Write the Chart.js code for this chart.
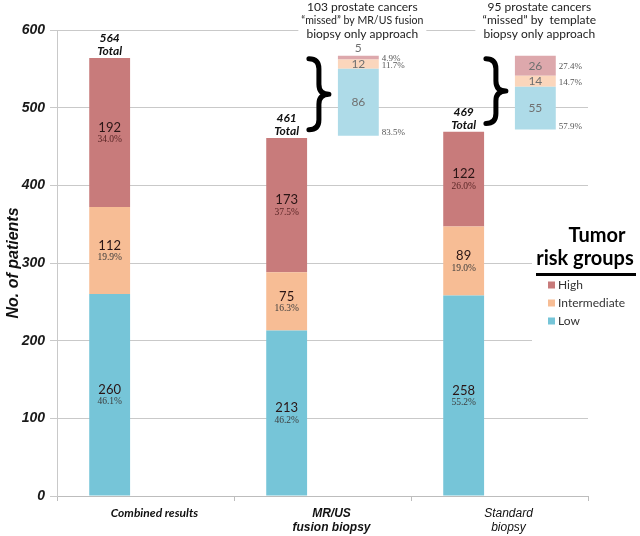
<!DOCTYPE html>
<html>
<head>
<meta charset="utf-8">
<script src="https://cdn.jsdelivr.net/npm/chart.js@4.4.0/dist/chart.umd.min.js"></script>
<style>
  html, body { margin: 0; padding: 0; background: #fff; }
</style>
</head>
<body>
<canvas id="riskChart" width="640" height="536"></canvas>
<script>
// tumor risk groups per biopsy approach
const categories = ['Combined results', ['MR/US', 'fusion biopsy'], ['Standard', 'biopsy']];
const lowCounts = [260, 213, 258];
const intermediateCounts = [112, 75, 89];
const highCounts = [192, 173, 122];
const totals = [564, 461, 469];
const lowPct = ['46.1%', '46.2%', '55.2%'];
const intermediatePct = ['19.9%', '16.3%', '19.0%'];
const highPct = ['34.0%', '37.5%', '26.0%'];

// cancers "missed" by the other approach (inset bars)
const missedLow = [null, 86, 55];
const missedIntermediate = [null, 12, 14];
const missedHigh = [null, 5, 26];
const missedLowPct = [null, '83.5%', '57.9%'];
const missedIntermediatePct = [null, '11.7%', '14.7%'];
const missedHighPct = [null, '4.9%', '27.4%'];
const missedNotes = [null,
  ['103 prostate cancers', '\u201cmissed\u201d by MR/US fusion', 'biopsy only approach'],
  ['95 prostate cancers', '\u201cmissed\u201d by  template', 'biopsy only approach']];

const yTicks = [0, 100, 200, 300, 400, 500, 600];
const legendLabels = ['High', 'Intermediate', 'Low'];

// where the inset bars start on the y axis
const insetBase = [null, 464, 472];

const colors = {
  low: 'rgb(118,197,216)', mid: 'rgb(247,189,149)', high: 'rgb(200,123,123)',
  lowLight: 'rgb(174,219,232)', midLight: 'rgb(251,214,188)', highLight: 'rgb(221,168,172)'
};

// build floating [start, end] ranges so each stack is drawn from its own base
function stackRanges(parts, bases) {
  const out = parts.map(() => []);
  bases.forEach((base, i) => {
    let acc = base;
    parts.forEach((p, k) => {
      if (base == null || p[i] == null) { out[k].push(null); return; }
      out[k].push([acc, acc + p[i]]);
      acc += p[i];
    });
  });
  return out;
}

const mainRanges = stackRanges([lowCounts, intermediateCounts, highCounts], [0, 0, 0]);
const missedRanges = stackRanges([missedLow, missedIntermediate, missedHigh], insetBase);

const datasets = [
  { label: 'Low', data: mainRanges[0], backgroundColor: colors.low, stack: 'main', counts: lowCounts, pcts: lowPct, kind: 'low' },
  { label: 'Intermediate', data: mainRanges[1], backgroundColor: colors.mid, stack: 'main', counts: intermediateCounts, pcts: intermediatePct, kind: 'mid' },
  { label: 'High', data: mainRanges[2], backgroundColor: colors.high, stack: 'main', counts: highCounts, pcts: highPct, kind: 'high' },
  { label: 'Missed low', data: missedRanges[0], backgroundColor: colors.lowLight, stack: 'missed', counts: missedLow, pcts: missedLowPct, kind: 'low' },
  { label: 'Missed intermediate', data: missedRanges[1], backgroundColor: colors.midLight, stack: 'missed', counts: missedIntermediate, pcts: missedIntermediatePct, kind: 'mid' },
  { label: 'Missed high', data: missedRanges[2], backgroundColor: colors.highLight, stack: 'missed', counts: missedHigh, pcts: missedHighPct, kind: 'high' }
];

function drawBrace(ctx, x0, top, bottom, w) {
  const mid = (top + bottom) / 2, cx = x0 + w / 2, r = w / 2;
  ctx.beginPath();
  ctx.moveTo(x0, top);
  ctx.quadraticCurveTo(cx, top, cx, top + r);
  ctx.lineTo(cx, mid - r);
  ctx.quadraticCurveTo(cx, mid, x0 + w, mid);
  ctx.quadraticCurveTo(cx, mid, cx, mid + r);
  ctx.lineTo(cx, bottom - r);
  ctx.quadraticCurveTo(cx, bottom, x0, bottom);
  ctx.stroke();
}

const barLabels = {
  id: 'barLabels',
  afterDatasetsDraw(chart) {
    const ctx = chart.ctx;
    ctx.save();
    ctx.textAlign = 'center';
    ctx.textBaseline = 'middle';
    chart.data.datasets.forEach((ds, di) => {
      const meta = chart.getDatasetMeta(di);
      meta.data.forEach((bar, i) => {
        if (ds.counts[i] == null) return;
        const top = Math.min(bar.y, bar.base), bottom = Math.max(bar.y, bar.base);
        const mid = (top + bottom) / 2;
        if (ds.stack === 'main') {
          ctx.textAlign = 'center';
          ctx.fillStyle = '#2a1515';
          ctx.font = '13px Lato';
          ctx.fillText(String(ds.counts[i]), bar.x, mid - 5);
          ctx.font = '9.5px "Liberation Serif"';
          ctx.fillStyle = ds.kind === 'high' ? '#5a2626' : '#3c3c3c';
          ctx.fillText(ds.pcts[i], bar.x, mid + 7);
          if (ds.kind === 'high') {
            ctx.font = 'italic bold 12px Lato';
            ctx.fillStyle = '#111';
            ctx.fillText(String(totals[i]), bar.x, top - 20);
            ctx.fillText('Total', bar.x, top - 7);
          }
        } else {
          ctx.textAlign = 'center';
          ctx.fillStyle = '#707070';
          ctx.font = '12px Lato';
          const ny = (bottom - top) < 9 ? top - 8 : mid;
          ctx.fillText(String(ds.counts[i]), bar.x, ny);
          ctx.textAlign = 'left';
          ctx.fillStyle = '#555';
          ctx.font = '9px "Liberation Serif"';
          const py = ds.kind === 'low' ? bottom - 3 : mid + 1;
          ctx.fillText(ds.pcts[i], bar.x + bar.width / 2 + 3, py);
        }
      });
    });

    // braces and notes for the inset bars
    const lowMeta = chart.getDatasetMeta(3), highMeta = chart.getDatasetMeta(5);
    lowMeta.data.forEach((bar, i) => {
      if (missedLow[i] == null) return;
      const topBar = highMeta.data[i];
      const top = Math.min(topBar.y, topBar.base), bottom = Math.max(bar.y, bar.base);
      ctx.strokeStyle = '#000';
      ctx.lineWidth = 5;
      ctx.lineCap = 'round';
      ctx.lineJoin = 'round';
      drawBrace(ctx, bar.x - bar.width / 2 - 29, top + 3, bottom - 6, 20);

      const cx = bar.x + 4;
      ctx.fillStyle = '#fff';
      ctx.fillRect(cx - 64, 0, 128, 41);
      ctx.fillStyle = '#222';
      ctx.textAlign = 'center';
      ctx.font = '12px Lato';
      missedNotes[i].forEach((line, k) => ctx.fillText(line, cx, 7 + k * 13.5, 122));
    });
    ctx.restore();
  }
};

const riskLegend = {
  id: 'riskLegend',
  afterDraw(chart) {
    const ctx = chart.ctx;
    ctx.save();
    ctx.fillStyle = '#fff';
    ctx.fillRect(532, 218, 108, 128);
    ctx.fillStyle = '#000';
    ctx.textAlign = 'center';
    ctx.textBaseline = 'alphabetic';
    ctx.font = 'bold 20px Lato';
    ctx.fillText('Tumor', 597, 242);
    ctx.fillText('risk groups', 585, 265, 100);
    ctx.fillRect(536, 273, 100, 3);
    const swatch = { High: colors.high, Intermediate: colors.mid, Low: colors.low };
    ctx.font = '12px Lato';
    ctx.textAlign = 'left';
    ctx.textBaseline = 'middle';
    legendLabels.forEach((name, k) => {
      const y = 285 + k * 18;
      ctx.fillStyle = swatch[name];
      ctx.fillRect(548, y - 3.5, 7, 7);
      ctx.fillStyle = '#333';
      ctx.fillText(name, 558, y);
    });
    ctx.restore();
  }
};

const xFonts = [
  { family: 'Lato', size: 12, weight: 'bold', style: 'italic' },
  { family: 'Liberation Sans', size: 12, weight: 'bold', style: 'italic' },
  { family: 'Liberation Sans', size: 12, weight: 'normal', style: 'italic' }
];

new Chart(document.getElementById('riskChart').getContext('2d'), {
  type: 'bar',
  data: { labels: categories, datasets: datasets },
  options: {
    responsive: false,
    animation: false,
    layout: { padding: { top: 30, right: 52, bottom: 0, left: 0 } },
    datasets: { bar: { categoryPercentage: 0.81, barPercentage: 0.57 } },
    scales: {
      x: {
        grid: { offset: true, drawOnChartArea: false, drawTicks: true, tickLength: 5, color: '#bdbdbd' },
        border: { color: '#bdbdbd' },
        ticks: {
          color: '#111',
          padding: 5,
          labelOffset: 9,
          maxRotation: 0,
          autoSkip: false,
          font: ctx => xFonts[ctx.index] || xFonts[0]
        },
        afterFit: s => { s.height = 40; }
      },
      y: {
        min: 0,
        max: 600,
        stacked: false,
        afterBuildTicks: s => { s.ticks = yTicks.map(v => ({ value: v })); },
        grid: { color: '#c9c9c9', tickLength: 7 },
        border: { color: '#c9c9c9' },
        ticks: {
          color: '#1a1a1a',
          padding: 5,
          font: { family: 'Liberation Sans', size: 14, weight: 'bold', style: 'italic' }
        },
        title: {
          display: true,
          text: 'No. of patients',
          color: '#111',
          padding: { top: 4, bottom: 0 },
          font: { family: 'Liberation Sans', size: 16, weight: 'bold', style: 'italic' }
        },
        afterFit: s => { s.width = 57; }
      }
    },
    plugins: {
      legend: { display: false },
      tooltip: { enabled: false }
    }
  },
  plugins: [barLabels, riskLegend]
});
</script>
</body>
</html>
